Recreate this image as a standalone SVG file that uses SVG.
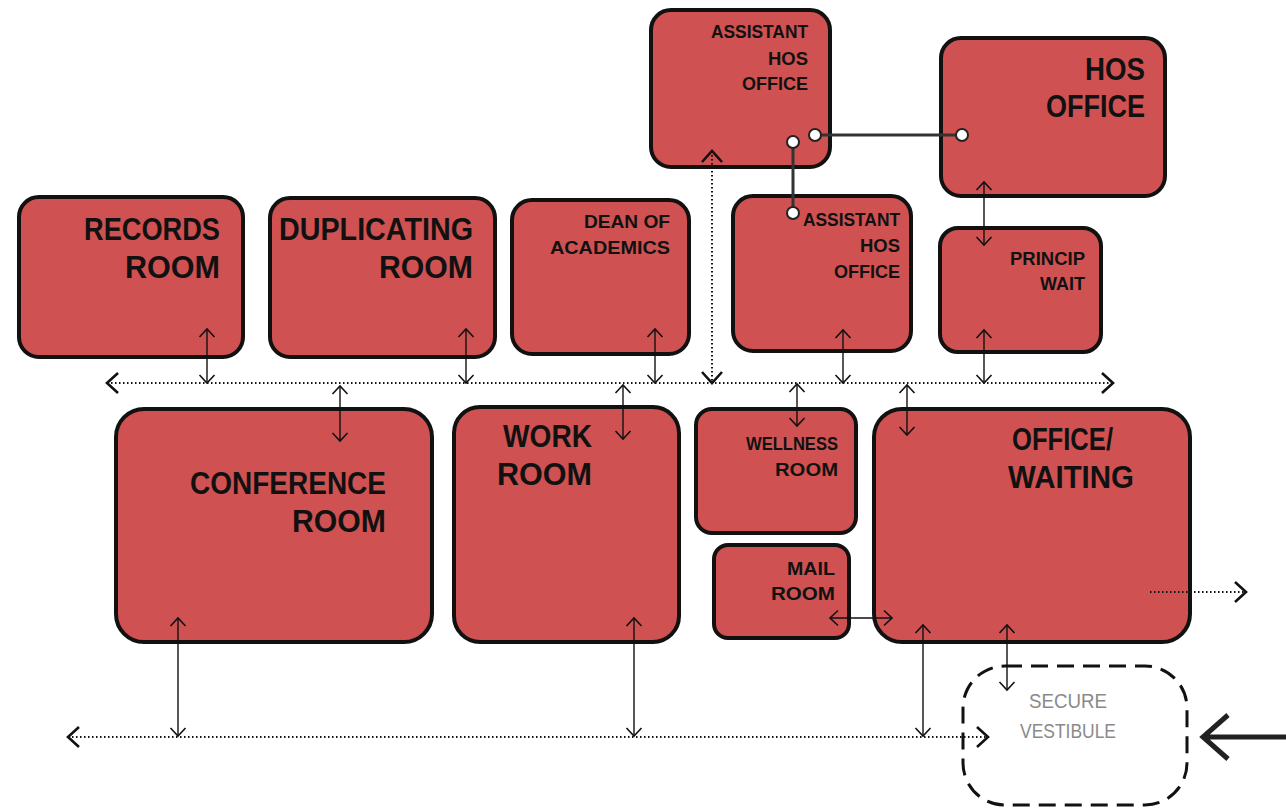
<svg xmlns="http://www.w3.org/2000/svg" width="1286" height="811" viewBox="0 0 1286 811">
  <style>
    .room { fill: #CF5151; stroke: #111; stroke-width: 4; }
    .lbl { font-family: "Liberation Sans", Arial, sans-serif; font-weight: bold; fill: #111; text-anchor: end; }
    .big { font-size: 31px; }
    .sm { font-size: 19px; }
    .thin { stroke: #111; stroke-width: 1.4; fill: none; marker-start: url(#tip); marker-end: url(#tip); }
    .hall { stroke: #111; stroke-width: 2; stroke-dasharray: 1.5 2.5; fill: none; }
    .link { stroke: #333; stroke-width: 3; fill: none; }
    .knob { fill: #fff; stroke: #222; stroke-width: 2; }
    .vest { fill: none; stroke: #111; stroke-width: 3; stroke-dasharray: 17 9; }
    .vlbl { font-family: "Liberation Sans", Arial, sans-serif; font-size: 21px; fill: #8a8a8a; text-anchor: middle; }
  </style>
  <defs>
    <marker id="tip" markerUnits="userSpaceOnUse" viewBox="-12 -12 24 24" markerWidth="24" markerHeight="24" refX="0" refY="0" orient="auto-start-reverse" overflow="visible">
      <path d="M-8,-7.5 L0,0 L-8,7.5" fill="none" stroke="#111" stroke-width="1.6"/>
    </marker>
    <marker id="chev" markerUnits="userSpaceOnUse" viewBox="-14 -14 28 28" markerWidth="28" markerHeight="28" refX="0" refY="0" orient="auto-start-reverse" overflow="visible">
      <path d="M-11,-10 L0,0 L-11,10" fill="none" stroke="#111" stroke-width="2.6"/>
    </marker>
  </defs>

  <rect width="1286" height="811" fill="#fff"/>

  <!-- rooms -->
  <g id="assistant-hos-office-1">
    <rect class="room" x="651" y="10" width="179" height="157" rx="20"/>
    <text class="lbl sm" x="808" y="38" textLength="97" lengthAdjust="spacingAndGlyphs">ASSISTANT</text>
    <text class="lbl sm" x="808" y="65" textLength="40" lengthAdjust="spacingAndGlyphs">HOS</text>
    <text class="lbl sm" x="808" y="90" textLength="66" lengthAdjust="spacingAndGlyphs">OFFICE</text>
  </g>
  <g id="hos-office">
    <rect class="room" x="941" y="38" width="224" height="158" rx="20"/>
    <text class="lbl big" x="1145" y="80" textLength="60" lengthAdjust="spacingAndGlyphs">HOS</text>
    <text class="lbl big" x="1145" y="117" textLength="99" lengthAdjust="spacingAndGlyphs">OFFICE</text>
  </g>
  <g id="records-room">
    <rect class="room" x="19" y="197" width="224" height="160" rx="20"/>
    <text class="lbl big" x="220" y="240" textLength="136" lengthAdjust="spacingAndGlyphs">RECORDS</text>
    <text class="lbl big" x="220" y="278" textLength="95" lengthAdjust="spacingAndGlyphs">ROOM</text>
  </g>
  <g id="duplicating-room">
    <rect class="room" x="270" y="198" width="225" height="159" rx="20"/>
    <text class="lbl big" x="473" y="240" textLength="194" lengthAdjust="spacingAndGlyphs">DUPLICATING</text>
    <text class="lbl big" x="473" y="278" textLength="94" lengthAdjust="spacingAndGlyphs">ROOM</text>
  </g>
  <g id="dean-of-academics">
    <rect class="room" x="512" y="200" width="177" height="154" rx="20"/>
    <text class="lbl sm" x="670" y="228" textLength="86" lengthAdjust="spacingAndGlyphs">DEAN OF</text>
    <text class="lbl sm" x="670" y="254" textLength="120" lengthAdjust="spacingAndGlyphs">ACADEMICS</text>
  </g>
  <g id="assistant-hos-office-2">
    <rect class="room" x="733" y="196" width="178" height="155" rx="20"/>
    <text class="lbl sm" x="900" y="226" textLength="97" lengthAdjust="spacingAndGlyphs">ASSISTANT</text>
    <text class="lbl sm" x="900" y="252" textLength="40" lengthAdjust="spacingAndGlyphs">HOS</text>
    <text class="lbl sm" x="900" y="278" textLength="66" lengthAdjust="spacingAndGlyphs">OFFICE</text>
  </g>
  <g id="princip-wait">
    <rect class="room" x="940" y="228" width="161" height="124" rx="18"/>
    <text class="lbl sm" x="1085" y="265" textLength="75" lengthAdjust="spacingAndGlyphs">PRINCIP</text>
    <text class="lbl sm" x="1085" y="290" textLength="45" lengthAdjust="spacingAndGlyphs">WAIT</text>
  </g>
  <g id="conference-room">
    <rect class="room" x="116" y="409" width="316" height="233" rx="28"/>
    <text class="lbl big" x="386" y="494" textLength="196" lengthAdjust="spacingAndGlyphs">CONFERENCE</text>
    <text class="lbl big" x="386" y="532" textLength="94" lengthAdjust="spacingAndGlyphs">ROOM</text>
  </g>
  <g id="work-room">
    <rect class="room" x="454" y="407" width="225" height="235" rx="26"/>
    <text class="lbl big" x="592" y="447" textLength="89" lengthAdjust="spacingAndGlyphs">WORK</text>
    <text class="lbl big" x="592" y="485" textLength="95" lengthAdjust="spacingAndGlyphs">ROOM</text>
  </g>
  <g id="wellness-room">
    <rect class="room" x="696" y="409" width="160" height="124" rx="16"/>
    <text class="lbl sm" x="838" y="450" textLength="92" lengthAdjust="spacingAndGlyphs">WELLNESS</text>
    <text class="lbl sm" x="838" y="476" textLength="63" lengthAdjust="spacingAndGlyphs">ROOM</text>
  </g>
  <g id="mail-room">
    <rect class="room" x="714" y="545" width="135" height="93" rx="14"/>
    <text class="lbl sm" x="835" y="575" textLength="48" lengthAdjust="spacingAndGlyphs">MAIL</text>
    <text class="lbl sm" x="835" y="600" textLength="64" lengthAdjust="spacingAndGlyphs">ROOM</text>
  </g>
  <g id="office-waiting">
    <rect class="room" x="874" y="409" width="316" height="233" rx="28"/>
    <text class="lbl big" x="1113" y="450" textLength="101" lengthAdjust="spacingAndGlyphs">OFFICE/</text>
    <text class="lbl big" x="1134" y="488" textLength="126" lengthAdjust="spacingAndGlyphs">WAITING</text>
  </g>
  <g id="secure-vestibule">
    <rect class="vest" x="963" y="666" width="224" height="139" rx="42"/>
    <text class="vlbl" x="1068" y="708" textLength="78" lengthAdjust="spacingAndGlyphs">SECURE</text>
    <text class="vlbl" x="1068" y="738" textLength="96" lengthAdjust="spacingAndGlyphs">VESTIBULE</text>
  </g>

  <!-- connectors -->
  <g id="connectors">
    <!-- corridors -->
    <line class="hall" x1="107" y1="383" x2="1113" y2="383" marker-start="url(#chev)" marker-end="url(#chev)"/>
    <line class="hall" x1="68" y1="737" x2="988" y2="737" marker-start="url(#chev)" marker-end="url(#chev)"/>
    <line class="hall" x1="712" y1="151" x2="712" y2="383" marker-start="url(#chev)" marker-end="url(#chev)"/>
    <line class="hall" x1="1150" y1="592" x2="1246" y2="592" marker-end="url(#chev)"/>

    <!-- room-to-corridor links -->
    <line class="thin" x1="207" y1="329" x2="207" y2="383"/>
    <line class="thin" x1="340" y1="386" x2="340" y2="441"/>
    <line class="thin" x1="466" y1="329" x2="466" y2="383"/>
    <line class="thin" x1="655" y1="329" x2="655" y2="383"/>
    <line class="thin" x1="623" y1="385" x2="623" y2="439"/>
    <line class="thin" x1="797" y1="384" x2="797" y2="426"/>
    <line class="thin" x1="843" y1="330" x2="843" y2="383"/>
    <line class="thin" x1="907" y1="385" x2="907" y2="435"/>
    <line class="thin" x1="984" y1="330" x2="984" y2="383"/>
    <line class="thin" x1="984" y1="182" x2="984" y2="245"/>
    <line class="thin" x1="178" y1="618" x2="178" y2="736"/>
    <line class="thin" x1="634" y1="618" x2="634" y2="736"/>
    <line class="thin" x1="923" y1="625" x2="923" y2="736"/>
    <line class="thin" x1="1007" y1="625" x2="1007" y2="690"/>
    <line class="thin" x1="830" y1="618" x2="892" y2="618"/>

    <!-- office links -->
    <line class="link" x1="793" y1="142" x2="793" y2="213"/>
    <line class="link" x1="815" y1="135" x2="962" y2="135"/>
    <circle class="knob" cx="793" cy="142" r="6"/>
    <circle class="knob" cx="793" cy="213" r="6"/>
    <circle class="knob" cx="815" cy="135" r="6"/>
    <circle class="knob" cx="962" cy="135" r="6"/>

    <!-- main entry -->
    <path d="M1286,737 L1203,737 M1228,715 L1203,737 L1228,759" fill="none" stroke="#222" stroke-width="5"/>
  </g>
</svg>
